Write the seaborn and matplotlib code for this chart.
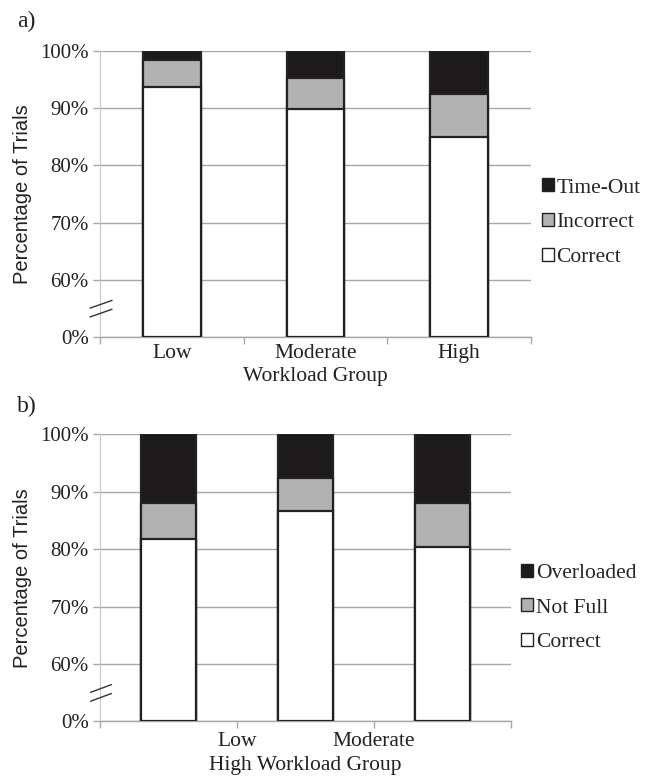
import numpy as np
import pandas as pd
import matplotlib
matplotlib.use("Agg")
import matplotlib.pyplot as plt
from matplotlib.patches import Patch
import seaborn as sns

# ---------------- data ----------------
a_groups = ["Low", "Moderate", "High"]
a_correct = [93.7, 89.8, 84.9]
a_incorrect = [4.7, 5.5, 7.6]
a_timeout = [1.6, 4.7, 7.5]
a_labels = ["Time-Out", "Incorrect", "Correct"]

b_groups = ["G1", "G2", "G3"]
b_correct = [81.7, 86.6, 80.3]
b_notfull = [6.3, 5.8, 7.7]
b_overloaded = [12.0, 7.6, 12.0]
b_labels = ["Overloaded", "Not Full", "Correct"]
b_tick_labels = ["", "Low", "Moderate", ""]

ytick_vals = [0, 60, 70, 80, 90, 100]
ytick_labels = ["0%", "60%", "70%", "80%", "90%", "100%"]

# ---------------- style ----------------
sns.set_theme(style="white")
plt.rcParams["font.family"] = ["Liberation Serif", "DejaVu Serif"]

BLACK = "#1c1a1a"
GRAY = "#b2b2b2"
GRID = "#a8a8a8"
EDGE = "#222222"
TXT = "#222222"


def fwd(v):
    v = np.asarray(v, dtype=float)
    return np.where(v < 60, 50 + v / 6.0, v)


def inv(u):
    u = np.asarray(u, dtype=float)
    return np.where(u < 60, (u - 50) * 6.0, u)


fig = plt.figure(figsize=(6.5, 7.81), dpi=100)
ax_a = fig.add_axes([0.1538, 0.5685, 0.6631, 0.3662])
ax_b = fig.add_axes([0.1538, 0.0764, 0.6319, 0.3675])


def draw_panel(ax, groups, correct, mid, top, labels, xlabel):
    df = pd.DataFrame({"group": groups,
                       "total": np.array(correct) + np.array(mid) + np.array(top),
                       "cm": np.array(correct) + np.array(mid),
                       "c": correct})
    ax.set_yscale("function", functions=(fwd, inv))
    for col, colr in [("total", BLACK), ("cm", GRAY), ("c", "white")]:
        sns.barplot(data=df, x="group", y=col, ax=ax, color=colr,
                    saturation=1, width=0.4, edgecolor=EDGE, linewidth=1.6,
                    errorbar=None, zorder=3)
    ax.set_ylim(0, 100)
    ax.set_xlim(-0.5, 2.5)
    ax.set_yticks(ytick_vals, labels=ytick_labels)
    ax.yaxis.grid(True, color=GRID, linewidth=1.0, zorder=0)
    ax.set_axisbelow(True)
    ax.tick_params(axis="y", length=5, color=GRID, width=1.0, labelsize=15, pad=3,
                   left=True, labelcolor=TXT)
    for s in ["top", "right"]:
        ax.spines[s].set_visible(False)
    ax.spines["left"].set_color("#c8c8c8")
    ax.spines["left"].set_linewidth(0.8)
    ax.spines["bottom"].set_color(GRID)
    ax.spines["bottom"].set_linewidth(1.0)
    ax.set_ylabel("Percentage of Trials", family=["Liberation Sans", "DejaVu Sans"],
                  fontsize=14.5, labelpad=6, color=TXT)
    ax.set_xlabel(xlabel, fontsize=15.5, labelpad=3, color=TXT)
    # break marks
    for y0 in (0.070, 0.101):
        ax.plot([-0.023, 0.028], [y0, y0 + 0.027], transform=ax.transAxes,
                color="#333333", lw=1.0, clip_on=False, zorder=5)
    handles = [Patch(facecolor=BLACK, edgecolor=EDGE, linewidth=1.0),
               Patch(facecolor=GRAY, edgecolor=EDGE, linewidth=1.0),
               Patch(facecolor="white", edgecolor=EDGE, linewidth=1.0)]
    return handles


legend_kw = dict(loc="center left", frameon=False, fontsize=15.5,
                 handlelength=0.55, handleheight=0.55, handletextpad=0.12,
                 labelspacing=0.72, borderaxespad=0.1)

h = draw_panel(ax_a, a_groups, a_correct, a_incorrect, a_timeout, a_labels, "Workload Group")
ax_a.set_xticks([0, 1, 2], labels=a_groups)
ax_a.set_xticks([-0.5, 0.5, 1.5, 2.5], minor=True)
ax_a.tick_params(axis="x", which="major", length=0, labelsize=15.5, pad=5, labelcolor=TXT)
ax_a.tick_params(axis="x", which="minor", length=5, color=GRID, width=1.0, bottom=True)
ax_a.legend(h, a_labels, bbox_to_anchor=(1.0, 0.40), **legend_kw)

h = draw_panel(ax_b, b_groups, b_correct, b_notfull, b_overloaded, b_labels, "High Workload Group")
ax_b.set_xticks([-0.5, 0.5, 1.5, 2.5], labels=b_tick_labels)
ax_b.tick_params(axis="x", which="major", length=5, color=GRID, width=1.0, labelsize=15.5,
                 pad=3, labelcolor=TXT, bottom=True)
ax_b.legend(h, b_labels, bbox_to_anchor=(1.0, 0.395), **legend_kw)

fig.text(0.026, 0.972, "a)", fontsize=17, va="center", ha="left", color=TXT)
fig.text(0.026, 0.480, "b)", fontsize=17, va="center", ha="left", color=TXT)

fig.savefig("out.png", dpi=100)
